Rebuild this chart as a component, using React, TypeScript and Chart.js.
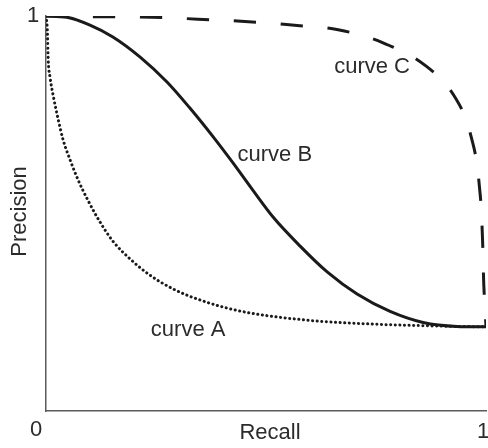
import React, { useEffect, useRef } from "react";
import { Chart, registerables } from "chart.js";

Chart.register(...registerables);

// Curve A (dotted)
const recallA = [0, 0.003, 0.005, 0.009, 0.017, 0.028, 0.039, 0.055, 0.073, 0.096, 0.123, 0.152, 0.191, 0.236, 0.289, 0.35, 0.441, 0.593, 0.743, 0.895, 1];
const precisionA = [1, 0.965, 0.889, 0.846, 0.795, 0.737, 0.686, 0.635, 0.585, 0.532, 0.478, 0.43, 0.385, 0.344, 0.309, 0.281, 0.253, 0.23, 0.22, 0.215, 0.213];

// Curve B (solid)
const recallB = [0, 0.047, 0.1, 0.152, 0.214, 0.275, 0.327, 0.38, 0.425, 0.47, 0.516, 0.577, 0.639, 0.707, 0.782, 0.857, 0.934, 1];
const precisionB = [1, 0.997, 0.977, 0.947, 0.896, 0.833, 0.767, 0.694, 0.628, 0.559, 0.491, 0.418, 0.352, 0.296, 0.252, 0.224, 0.214, 0.213];

// Curve C (dashed)
const recallC = [0, 0.134, 0.241, 0.345, 0.452, 0.559, 0.664, 0.766, 0.864, 0.932, 0.97, 0.986, 0.992, 0.995, 1];
const precisionC = [1, 0.998, 0.997, 0.992, 0.986, 0.977, 0.965, 0.932, 0.873, 0.79, 0.678, 0.557, 0.438, 0.319, 0.213];

// Curve name labels (text and anchor in data space)
const curveNames = ["curve A", "curve B", "curve C"];
const nameRecall = [0.323, 0.52, 0.741];
const namePrecision = [0.205, 0.648, 0.871];

// Axis end labels
const xTickLabels = ["0", "1"];
const yTickLabels = ["1"];
const xTitle = "Recall";
const yTitle = "Precision";

const zip = (xs: number[], ys: number[]) => xs.map((x, i) => ({ x, y: ys[i] }));

const FONT = '22px "Liberation Sans", Arial, sans-serif';
const TEXT_COLOR = "#2b2b2b";
const LINE_COLOR = "#1a1a1a";

const textPlugin = {
  id: "textPlugin",
  afterDraw(chart: any) {
    const { ctx, chartArea, scales } = chart;
    const xs = scales.x;
    const ys = scales.y;
    ctx.save();
    ctx.font = FONT;
    ctx.fillStyle = TEXT_COLOR;
    ctx.textAlign = "center";
    ctx.textBaseline = "middle";
    // x-axis end labels
    ctx.fillText(xTickLabels[0], xs.getPixelForValue(0) - 10, chartArea.bottom + 19);
    ctx.fillText(xTickLabels[1], xs.getPixelForValue(1) - 3, chartArea.bottom + 21);
    // y-axis top label
    ctx.fillText(yTickLabels[0], chartArea.left - 13, ys.getPixelForValue(1));
    // axis titles
    ctx.fillText(xTitle, (chartArea.left + chartArea.right) / 2 + 4, chartArea.bottom + 22);
    ctx.save();
    ctx.translate(chartArea.left - 26, (chartArea.top + chartArea.bottom) / 2 - 2);
    ctx.rotate(-Math.PI / 2);
    ctx.fillText(yTitle, 0, 0);
    ctx.restore();
    // curve names
    curveNames.forEach((name, i) => {
      ctx.fillText(name, xs.getPixelForValue(nameRecall[i]), ys.getPixelForValue(namePrecision[i]));
    });
    ctx.restore();
  },
};

export default function App() {
  const ref = useRef<HTMLCanvasElement | null>(null);

  useEffect(() => {
    document.body.style.margin = "0";
    if (!ref.current) return;
    const chart = new Chart(ref.current, {
      type: "scatter",
      data: {
        datasets: [
          {
            label: "curve A",
            data: zip(recallA, precisionA),
            showLine: true,
            borderColor: LINE_COLOR,
            borderWidth: 3,
            borderDash: [0.1, 4.5],
            borderCapStyle: "round",
            pointRadius: 0,
            cubicInterpolationMode: "monotone",
          },
          {
            label: "curve B",
            data: zip(recallB, precisionB),
            showLine: true,
            borderColor: LINE_COLOR,
            borderWidth: 3,
            pointRadius: 0,
            cubicInterpolationMode: "monotone",
          },
          {
            label: "curve C",
            data: zip(recallC, precisionC),
            showLine: true,
            borderColor: LINE_COLOR,
            borderWidth: 3,
            borderDash: [22, 25],
            pointRadius: 0,
            tension: 0.4,
          },
        ],
      },
      options: {
        animation: false,
        responsive: false,
        devicePixelRatio: 1,
        layout: { padding: { left: 46, right: 2, top: 16, bottom: 37 } },
        plugins: { legend: { display: false }, tooltip: { enabled: false } },
        scales: {
          x: {
            type: "linear",
            min: 0,
            max: 1,
            grid: { display: false, drawTicks: false },
            ticks: { display: false },
            border: { display: true, color: "#5a5a5a", width: 1.5 },
          },
          y: {
            type: "linear",
            min: 0,
            max: 1,
            grid: { display: false, drawTicks: false },
            ticks: { display: false },
            border: { display: true, color: "#5a5a5a", width: 1.5 },
          },
        },
      },
      plugins: [textPlugin],
    });
    return () => chart.destroy();
  }, []);

  return (
    <div style={{ position: "fixed", left: 0, top: 0, width: 488, height: 448, background: "#fff" }}>
      <canvas ref={ref} width={488} height={448} />
    </div>
  );
}
